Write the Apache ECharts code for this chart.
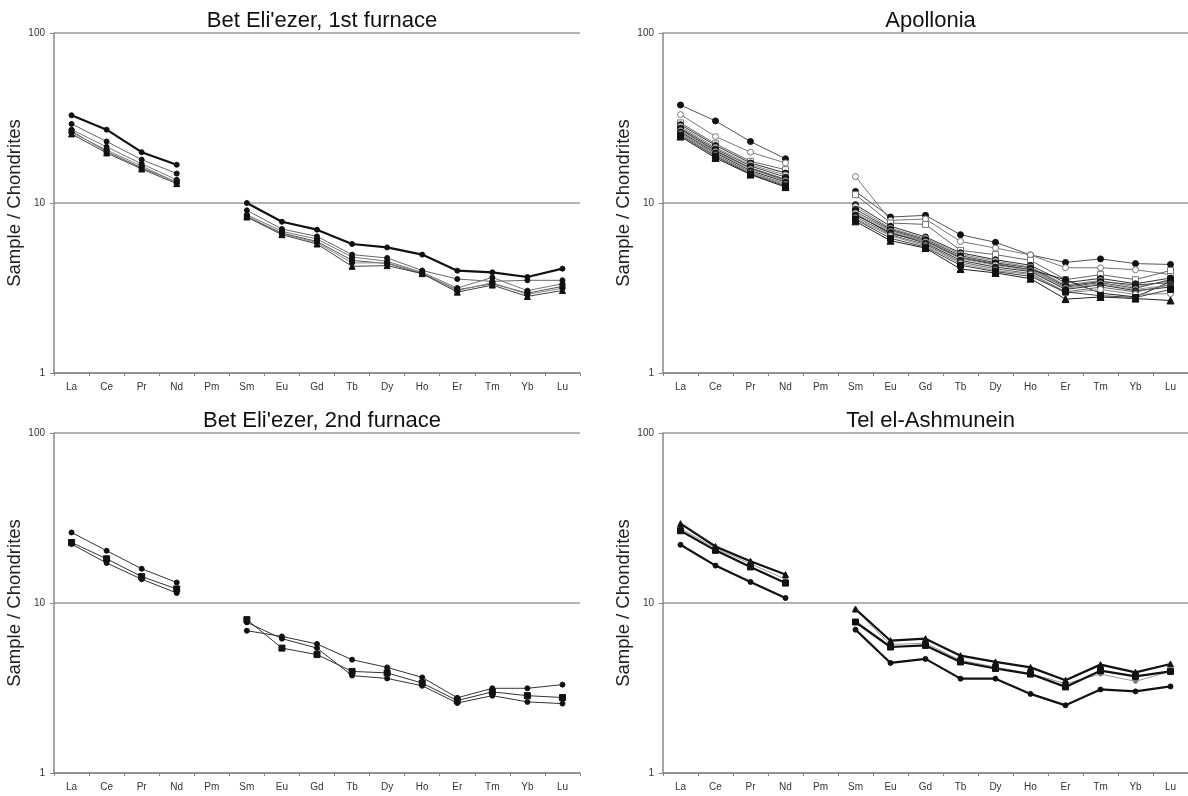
<!DOCTYPE html>
<html>
<head>
<meta charset="utf-8">
<script src="https://cdn.jsdelivr.net/npm/echarts@6/dist/echarts.min.js"></script>
<style>
  html, body { margin: 0; padding: 0; background: #fff; }
  #chart { width: 1188px; height: 796px; }
</style>
</head>
<body>
<div id="chart"></div>
<script>
// REE chondrite-normalised patterns, four sites
var elements = ['La', 'Ce', 'Pr', 'Nd', 'Pm', 'Sm', 'Eu', 'Gd', 'Tb', 'Dy', 'Ho', 'Er', 'Tm', 'Yb', 'Lu'];
var panelTitles = ["Bet Eli'ezer, 1st furnace", 'Apollonia', "Bet Eli'ezer, 2nd furnace", 'Tel el-Ashmunein'];
var yAxisName = 'Sample / Chondrites';

// Bet Eli'ezer, 1st furnace (Pm = no value)
var furnace1 = [
  [32.8, 27.0, 19.9, 16.8, null, 10.0, 7.76, 6.97, 5.74, 5.48, 4.97, 4.00, 3.91, 3.67, 4.11],
  [29.2, 23.0, 18.0, 14.9, null, 9.05, 7.03, 6.36, 4.97, 4.75, 4.01, 3.57, 3.46, 3.51, 3.51],
  [27.0, 21.4, 17.0, 13.7, null, 8.54, 6.81, 6.14, 4.81, 4.54, 3.91, 3.16, 3.65, 3.05, 3.35],
  [26.4, 20.1, 16.1, 13.3, null, 8.27, 6.66, 5.94, 4.60, 4.40, 3.84, 3.09, 3.35, 2.95, 3.23],
  [26.0, 20.5, 16.5, 13.2, null, 8.40, 6.60, 5.85, 4.44, 4.45, 3.88, 3.05, 3.40, 2.90, 3.15],
  [25.5, 19.7, 15.85, 13.0, null, 8.27, 6.51, 5.74, 4.24, 4.28, 3.84, 2.99, 3.29, 2.82, 3.06]
];

// Apollonia
var apollonia = [
  [37.7, 30.4, 23.0, 18.2, null, 11.7, 8.27, 8.46, 6.51, 5.87, 4.95, 4.47, 4.69, 4.40, 4.35],
  [33.1, 24.6, 19.9, 17.2, null, 14.3, 7.90, 8.05, 5.94, 5.43, 4.95, 4.16, 4.16, 4.05, 3.79],
  [29.6, 22.3, 17.6, 15.7, null, 11.2, 7.63, 7.48, 5.26, 4.97, 4.60, 3.54, 3.79, 3.54, 4.01],
  [28.9, 21.8, 17.2, 15.0, null, 9.77, 7.30, 6.31, 5.10, 4.64, 4.30, 3.40, 3.60, 3.35, 3.62],
  [28.2, 21.2, 16.8, 14.6, null, 9.50, 7.10, 6.20, 5.00, 4.55, 4.20, 3.30, 3.50, 3.20, 3.50],
  [27.6, 20.8, 16.5, 14.2, null, 9.20, 7.00, 6.10, 4.90, 4.45, 4.15, 3.25, 3.45, 3.30, 3.40],
  [27.2, 20.2, 16.0, 13.6, null, 8.60, 6.60, 5.95, 4.75, 4.35, 4.05, 3.54, 2.95, 2.80, 3.45],
  [27.0, 20.4, 16.1, 13.8, null, 8.90, 6.90, 6.00, 4.80, 4.40, 4.05, 3.20, 3.40, 3.15, 3.55],
  [26.6, 20.0, 15.8, 13.5, null, 8.70, 6.80, 5.90, 4.70, 4.30, 4.00, 3.15, 3.35, 3.10, 3.30],
  [26.2, 19.7, 15.5, 13.3, null, 8.50, 6.70, 5.80, 4.60, 4.20, 3.95, 3.10, 3.30, 3.05, 3.20],
  [25.8, 19.3, 15.2, 13.0, null, 8.30, 6.50, 5.70, 4.50, 4.10, 3.85, 3.00, 3.20, 3.00, 3.30],
  [25.4, 19.0, 15.0, 12.8, null, 8.10, 6.40, 5.60, 4.40, 4.00, 3.80, 2.95, 3.10, 2.90, 2.93],
  [25.0, 18.8, 14.8, 12.6, null, 8.00, 6.20, 5.50, 4.30, 3.95, 3.70, 3.00, 2.85, 2.78, 3.10],
  [24.6, 18.4, 14.7, 12.4, null, 7.80, 6.00, 5.43, 4.09, 3.88, 3.59, 2.72, 2.80, 2.74, 2.67]
];

// Bet Eli'ezer, 2nd furnace
var furnace2 = [
  [26.0, 20.3, 15.9, 13.2, null, 6.87, 6.36, 5.74, 4.64, 4.18, 3.65, 2.77, 3.15, 3.15, 3.31],
  [22.7, 18.2, 14.3, 12.1, null, 7.98, 5.43, 4.97, 3.96, 3.88, 3.38, 2.67, 3.00, 2.85, 2.78],
  [22.2, 17.2, 13.8, 11.45, null, 7.69, 6.17, 5.43, 3.74, 3.60, 3.26, 2.58, 2.85, 2.62, 2.56]
];

// Tel el-Ashmunein
var ashmunein = [
  [27.5, 21.0, 17.0, 13.8, null, 9.10, 5.70, 5.80, 4.60, 4.20, 3.85, 3.35, 3.82, 3.46, 3.96],
  [29.3, 21.5, 17.6, 14.7, null, 9.22, 6.00, 6.17, 4.90, 4.50, 4.18, 3.51, 4.34, 3.91, 4.38],
  [26.6, 20.4, 16.3, 13.1, null, 7.73, 5.51, 5.63, 4.50, 4.12, 3.82, 3.21, 4.00, 3.70, 3.96],
  [22.0, 16.6, 13.3, 10.7, null, 6.97, 4.44, 4.69, 3.59, 3.59, 2.92, 2.50, 3.10, 3.02, 3.23]
];

// marker / line styles for each series, by panel
var styles1 = [
  {sym: 'circle', size: 5, line: '#111', w: 2.2, fill: '#111', z: 5},
  {sym: 'circle', size: 5, line: '#666', w: 1, fill: '#111'},
  {sym: 'circle', size: 5, line: '#777', w: 1, fill: '#111'},
  {sym: 'rect', size: 5, line: '#555', w: 1, fill: '#111'},
  {sym: 'circle', size: 5, line: '#888', w: 1, fill: '#111'},
  {sym: 'triangle', size: 6, line: '#444', w: 1, fill: '#111'}
];
var styles2 = [
  {sym: 'circle', size: 6, line: '#555', w: 1, fill: '#111'},
  {sym: 'circle', size: 6, line: '#777', w: 1, fill: '#fff', border: '#777'},
  {sym: 'rect', size: 6, line: '#666', w: 1, fill: '#fff', border: '#777'},
  {sym: 'circle', size: 6, line: '#333', w: 1, fill: '#111'},
  {sym: 'circle', size: 6, line: '#888', w: 1, fill: '#fff', border: '#888'},
  {sym: 'circle', size: 6, line: '#444', w: 1, fill: '#222'},
  {sym: 'circle', size: 6, line: '#222', w: 1, fill: '#111'},
  {sym: 'rect', size: 6, line: '#555', w: 1, fill: '#111'},
  {sym: 'circle', size: 6, line: '#999', w: 1, fill: '#fff', border: '#888'},
  {sym: 'circle', size: 6, line: '#333', w: 1, fill: '#111'},
  {sym: 'circle', size: 6, line: '#666', w: 1, fill: '#333'},
  {sym: 'circle', size: 6, line: '#888', w: 1, fill: '#fff', border: '#777'},
  {sym: 'rect', size: 6, line: '#444', w: 1, fill: '#111'},
  {sym: 'triangle', size: 7, line: '#222', w: 1, fill: '#111'}
];
var styles3 = [
  {sym: 'circle', size: 5, line: '#333', w: 1, fill: '#111'},
  {sym: 'rect', size: 6, line: '#333', w: 1, fill: '#111'},
  {sym: 'circle', size: 5, line: '#333', w: 1, fill: '#111'}
];
var styles4 = [
  {sym: 'circle', size: 4, line: '#999', w: 1, fill: '#777'},
  {sym: 'triangle', size: 6, line: '#111', w: 2.2, fill: '#111'},
  {sym: 'rect', size: 6, line: '#111', w: 2.2, fill: '#111'},
  {sym: 'circle', size: 5, line: '#111', w: 2.2, fill: '#111'}
];

var font = '"Liberation Sans", Arial, sans-serif';
var grids = [
  {left: 54, top: 33, width: 526, height: 340},
  {left: 663, top: 33, width: 525, height: 340},
  {left: 54, top: 433, width: 526, height: 340},
  {left: 663, top: 433, width: 525, height: 340}
];

function xAxisFor(i) {
  return {
    type: 'category', gridIndex: i, data: elements, boundaryGap: true,
    axisLine: {lineStyle: {color: '#888', width: 1.5}},
    axisTick: {show: true, interval: 0, length: 3, lineStyle: {color: '#888'}},
    axisLabel: {interval: 0, fontSize: 10, color: '#333', fontFamily: font, margin: 9},
    splitLine: {show: false}
  };
}
function yAxisFor(i) {
  return {
    type: 'log', logBase: 10, min: 1, max: 100, gridIndex: i,
    name: yAxisName, nameLocation: 'middle', nameGap: 24, nameRotate: 90,
    nameTextStyle: {fontSize: 18.5, color: '#222', fontFamily: font},
    axisLine: {show: true, lineStyle: {color: '#888', width: 1.5}},
    axisTick: {show: true, length: 4, lineStyle: {color: '#888'}},
    axisLabel: {fontSize: 10, color: '#333', fontFamily: font, margin: 9},
    splitLine: {show: true, lineStyle: {color: '#999', width: 1.5}},
    minorTick: {show: false}
  };
}
function seriesFor(i, list, styles) {
  return list.map(function (vals, k) {
    var st = styles[k];
    return {
      type: 'line', xAxisIndex: i, yAxisIndex: i, data: vals,
      symbol: st.sym, symbolSize: st.size, showSymbol: true,
      connectNulls: false, z: st.z || 2,
      lineStyle: {color: st.line, width: st.w},
      itemStyle: {color: st.fill, borderColor: st.border || st.fill, borderWidth: 1},
      emphasis: {disabled: true}
    };
  });
}

var option = {
  animation: false,
  backgroundColor: '#fff',
  title: panelTitles.map(function (t, i) {
    return {
      text: t, left: grids[i].left + grids[i].width / 2, textAlign: 'center',
      top: grids[i].top - 28,
      textStyle: {fontSize: 22, fontWeight: 'normal', color: '#111', fontFamily: font}
    };
  }),
  grid: grids,
  xAxis: [0, 1, 2, 3].map(xAxisFor),
  yAxis: [0, 1, 2, 3].map(yAxisFor),
  series: [].concat(
    seriesFor(0, furnace1, styles1),
    seriesFor(1, apollonia, styles2),
    seriesFor(2, furnace2, styles3),
    seriesFor(3, ashmunein, styles4)
  )
};

var chart = echarts.init(document.getElementById('chart'), null, {renderer: 'canvas'});
chart.setOption(option);
</script>
</body>
</html>
